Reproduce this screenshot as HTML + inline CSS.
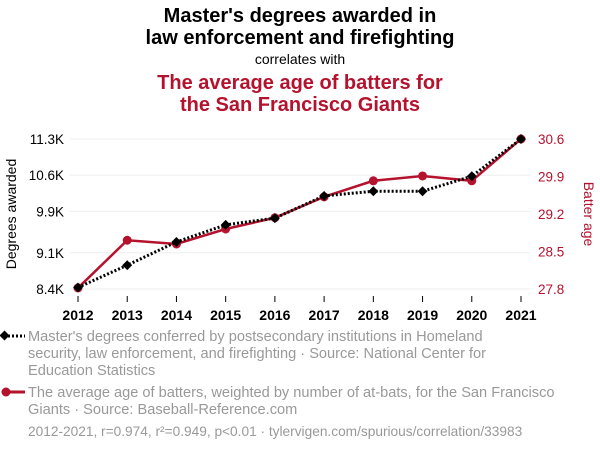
<!DOCTYPE html>
<html><head><meta charset="utf-8"><style>
body{margin:0;background:#fff;font-family:"Liberation Sans",sans-serif;}
svg text{font-family:"Liberation Sans",sans-serif;}
</style></head><body>
<svg id="chart" width="600" height="452" xmlns="http://www.w3.org/2000/svg">
<text x="300" y="22" text-anchor="middle" font-size="20" font-weight="bold" fill="#000">Master's degrees awarded in</text>
<text x="300" y="44" text-anchor="middle" font-size="20" font-weight="bold" fill="#000">law enforcement and firefighting</text>
<text x="300" y="64" text-anchor="middle" font-size="14" fill="#000">correlates with</text>
<text x="300" y="89" text-anchor="middle" font-size="20" font-weight="bold" fill="#b5122e">The average age of batters for</text>
<text x="300" y="111" text-anchor="middle" font-size="20" font-weight="bold" fill="#b5122e">the San Francisco Giants</text>
<g id="grid"></g><g id="axes"></g><g id="series"></g>
<text transform="translate(16,214) rotate(-90)" text-anchor="middle" font-size="14" fill="#000">Degrees awarded</text>
<text transform="translate(584,214) rotate(90)" text-anchor="middle" font-size="14" fill="#b5122e">Batter age</text>
<g>
<line x1="4" y1="336" x2="25" y2="336" stroke="#000" stroke-width="3" stroke-dasharray="2,2"/>
<rect x="1" y="332" width="7" height="7" transform="rotate(45 4.5 335.5)" fill="#000"/>
<text x="28" y="341" font-size="14.6" fill="#999">Master's degrees conferred by postsecondary institutions in Homeland</text>
<text x="28" y="358" font-size="14.6" fill="#999">security, law enforcement, and firefighting · Source: National Center for</text>
<text x="28" y="375" font-size="14.6" fill="#999">Education Statistics</text>
</g>
<g>
<line x1="4" y1="392" x2="25" y2="392" stroke="#b5122e" stroke-width="3"/>
<circle cx="6" cy="392" r="4.5" fill="#b5122e"/>
<text x="28" y="397" font-size="14.6" fill="#999">The average age of batters, weighted by number of at-bats, for the San Francisco</text>
<text x="28" y="414" font-size="14.6" fill="#999">Giants · Source: Baseball-Reference.com</text>
</g>
<text x="28" y="436" font-size="13.7" fill="#999">2012-2021, r=0.974, r²=0.949, p&lt;0.01 · tylervigen.com/spurious/correlation/33983</text>
</svg>
<script>
const years=[2012,2013,2014,2015,2016,2017,2018,2019,2020,2021];
const degrees=[8430,8860,9310,9640,9770,10200,10290,10290,10580,11300];
const ages=[27.82,28.71,28.64,28.92,29.13,29.52,29.82,29.91,29.82,30.6];
const leftTicks=[8.4,9.1,9.9,10.6,11.3];
const leftTickLabels=["8.4K","9.1K","9.9K","10.6K","11.3K"];
const rightTicks=[27.8,28.5,29.2,29.9,30.6];
const NS="http://www.w3.org/2000/svg";
const x=v=>78+(v-2012)*(521-78)/9;
const yL=v=>289-(v-8400)*150/2900;
const yR=v=>289-(v-27.8)*150/2.8;
function mk(t,a,p){const e=document.createElementNS(NS,t);for(const k in a)e.setAttribute(k,a[k]);p.appendChild(e);return e;}
const grid=document.getElementById('grid'),axes=document.getElementById('axes'),ser=document.getElementById('series');
leftTicks.forEach((t,i)=>{const y=yL(t*1000);
const g=mk('line',{x1:70,x2:530,y1:y,y2:y,stroke:'#eee','stroke-width':1},grid);


const l=mk('text',{x:64,y:y+5,'text-anchor':'end','font-size':13.5,fill:'#000'},axes);l.textContent=leftTickLabels[i];

});
rightTicks.forEach(t=>{const y=yR(t);
const l=mk('text',{x:538,y:y+5,'font-size':13.5,fill:'#b5122e'},axes);l.textContent=t.toFixed(1);

});
years.forEach(yr=>{const xx=x(yr);
mk('line',{x1:xx,x2:xx,y1:296,y2:302,stroke:'#000'},axes);
const l=mk('text',{x:xx,y:320,'text-anchor':'middle','font-size':14,'font-weight':'bold',fill:'#000'},axes);l.textContent=yr;

});
const rp=mk('polyline',{points:years.map((yr,i)=>x(yr)+','+yR(ages[i])).join(' '),fill:'none',stroke:'#b5122e','stroke-width':2.5},ser);


years.forEach((yr,i)=>{const c=mk('circle',{cx:x(yr),cy:yR(ages[i]),r:4.5,fill:'#b5122e'},ser);

});
const bp=mk('polyline',{points:years.map((yr,i)=>x(yr)+','+yL(degrees[i])).join(' '),fill:'none',stroke:'#000','stroke-width':3,'stroke-dasharray':'2,2'},ser);


years.forEach((yr,i)=>{const cx=x(yr),cy=yL(degrees[i]);
const d=mk('rect',{x:cx-3.5,y:cy-3.5,width:7,height:7,fill:'#000',transform:`rotate(45 ${cx} ${cy})`},ser);

});
</script>
</body></html>
